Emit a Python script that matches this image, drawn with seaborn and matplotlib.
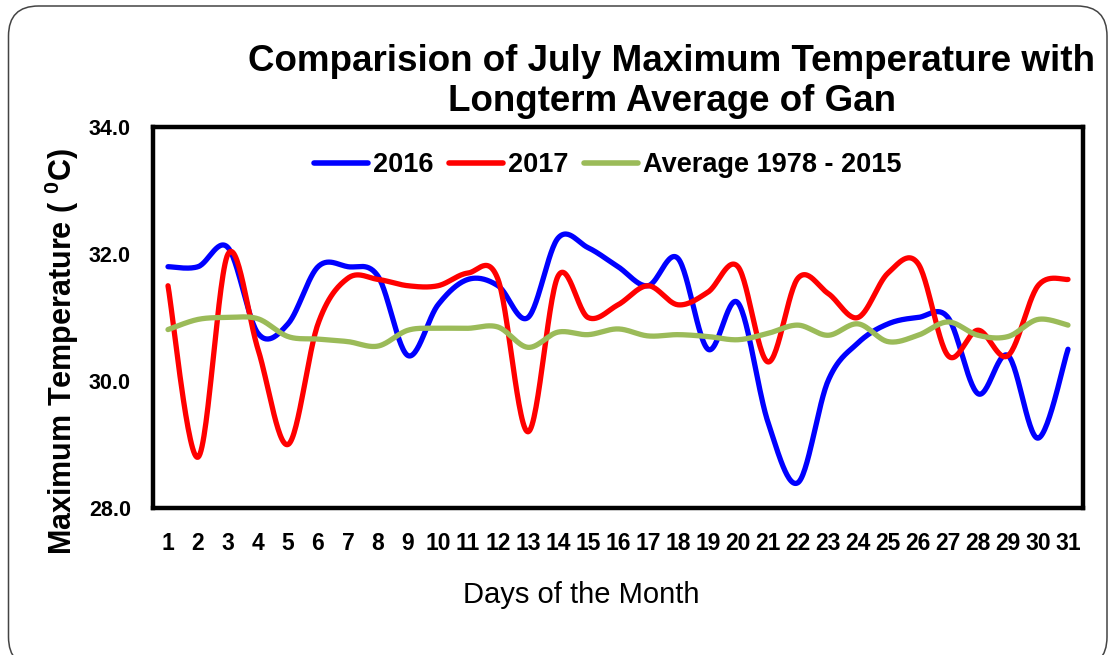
import numpy as np
import pandas as pd
import matplotlib
matplotlib.use("Agg")
import matplotlib.pyplot as plt
import seaborn as sns
from matplotlib.patches import FancyBboxPatch

days = list(range(1, 32))
t2016 = [31.8, 31.8, 32.1, 30.75, 30.9, 31.8, 31.8, 31.65, 30.4, 31.2,
         31.6, 31.5, 31.0, 32.25, 32.1, 31.8, 31.5, 31.93, 30.5, 31.23,
         29.35, 28.4, 30.0, 30.6, 30.9, 31.0, 31.0, 29.8, 30.4, 29.1, 30.5]
t2017 = [31.5, 28.8, 32.0, 30.5, 29.0, 30.9, 31.62, 31.6, 31.5, 31.5,
         31.7, 31.6, 29.2, 31.65, 31.0, 31.2, 31.5, 31.2, 31.4, 31.8,
         30.3, 31.62, 31.38, 31.0, 31.7, 31.85, 30.4, 30.8, 30.4, 31.5, 31.6]
tavg = [30.81, 30.97, 31.0, 30.98, 30.7, 30.66, 30.62, 30.55, 30.8, 30.83,
        30.83, 30.85, 30.53, 30.77, 30.73, 30.82, 30.71, 30.73, 30.7, 30.65,
        30.75, 30.88, 30.72, 30.9, 30.62, 30.72, 30.93, 30.72, 30.7, 30.97, 30.88]
series_names = ["2016", "2017", "Average 1978 - 2015"]
series_colors = ["#0000FF", "#FF0000", "#9BBB59"]
yticks = [28.0, 30.0, 32.0, 34.0]


def smooth(x, y, n=30):
    """Excel-style smoothed line (Catmull-Rom Bezier) through the points."""
    x = np.asarray(x, float)
    y = np.asarray(y, float)
    xs, ys = [], []
    m = len(x)
    for i in range(m - 1):
        p0 = np.array([x[max(i - 1, 0)], y[max(i - 1, 0)]])
        p1 = np.array([x[i], y[i]])
        p2 = np.array([x[i + 1], y[i + 1]])
        p3 = np.array([x[min(i + 2, m - 1)], y[min(i + 2, m - 1)]])
        c1 = p1 + (p2 - p0) / 6.0
        c2 = p2 - (p3 - p1) / 6.0
        t = np.linspace(0, 1, n, endpoint=(i == m - 2))[:, None]
        pts = ((1 - t) ** 3) * p1 + 3 * ((1 - t) ** 2) * t * c1 + 3 * (1 - t) * t ** 2 * c2 + t ** 3 * p2
        xs.append(pts[:, 0])
        ys.append(pts[:, 1])
    return np.concatenate(xs), np.concatenate(ys)


sns.set_theme(style="white")
plt.rcParams['font.family'] = ['Liberation Sans', 'DejaVu Sans']
plt.rcParams['mathtext.fontset'] = 'custom'
plt.rcParams['mathtext.rm'] = 'Liberation Sans'
plt.rcParams['mathtext.bf'] = 'Liberation Sans:bold'
for k in ['text.color', 'axes.labelcolor', 'xtick.color', 'ytick.color']:
    plt.rcParams[k] = 'black'

fig = plt.figure(figsize=(11.10, 6.55), dpi=100)
fig.patch.set_facecolor("white")

# background outline (pixel coordinates, y up)
bg = fig.add_axes([0, 0, 1, 1], zorder=-5)
bg.set_xlim(0, 1110)
bg.set_ylim(0, 655)
bg.axis("off")
bg.add_patch(FancyBboxPatch((8.5, -12), 1098.5, 661, boxstyle="round,pad=0,rounding_size=30",
                            fill=False, edgecolor="#444444", linewidth=1.1, clip_on=False))

ax = fig.add_axes([153 / 1110, 1 - 508 / 655, 930 / 1110, 381 / 655])
ax.set_facecolor("white")

frames = []
for name, vals in zip(series_names, [t2016, t2017, tavg]):
    sx, sy = smooth(days, vals)
    frames.append(pd.DataFrame({"day": sx, "temp": sy, "series": name}))
df = pd.concat(frames, ignore_index=True)

sns.lineplot(data=df, x="day", y="temp", hue="series", hue_order=series_names,
             palette=series_colors, sort=False, estimator=None, linewidth=3.8,
             ax=ax, legend=False)

ax.set_xlim(0.5, 31.5)
ax.set_ylim(28, 34)
ax.set_yticks(yticks)
ax.set_yticklabels([f"{v:.1f}" for v in yticks], fontsize=15.5, fontweight="bold")
ax.set_xticks(days)
ax.set_xticklabels([str(d) for d in days], fontsize=16.5, fontweight="bold")
ax.set_xticks(np.arange(0.5, 32, 1), minor=True)
ax.tick_params(axis="x", which="major", length=0, pad=17)
ax.tick_params(axis="x", which="minor", length=6, width=1, color="black", direction="out")
ax.tick_params(axis="y", which="major", length=4, width=1, color="black", direction="out", pad=12)

for s in ax.spines.values():
    s.set_visible(True)
    s.set_color("black")
    s.set_linewidth(3.2)

ax.set_xlabel("Days of the Month", fontsize=21)
ax.xaxis.set_label_coords(0.46, -0.192)
ax.set_ylabel(r"Maximum Temperature ( $\mathbf{^0}$C)", fontsize=22, fontweight="bold")
ax.yaxis.set_label_coords(-0.077, 0.41)

handles = [plt.Line2D([0], [0], color=c, lw=4) for c in series_colors]
leg = ax.legend(handles, series_names, loc="center", bbox_to_anchor=(0.489, 0.90),
                ncol=3, frameon=False, handlelength=2.0, handletextpad=0.2,
                columnspacing=0.55, prop={"weight": "bold", "size": 19.5})

fig.text(672 / 1110, 1 - 81.5 / 655,
         "Comparision of July Maximum Temperature with\nLongterm Average of Gan",
         ha="center", va="center", fontsize=26.5, fontweight="bold", linespacing=1.22)

fig.savefig("out.png", dpi=100)
